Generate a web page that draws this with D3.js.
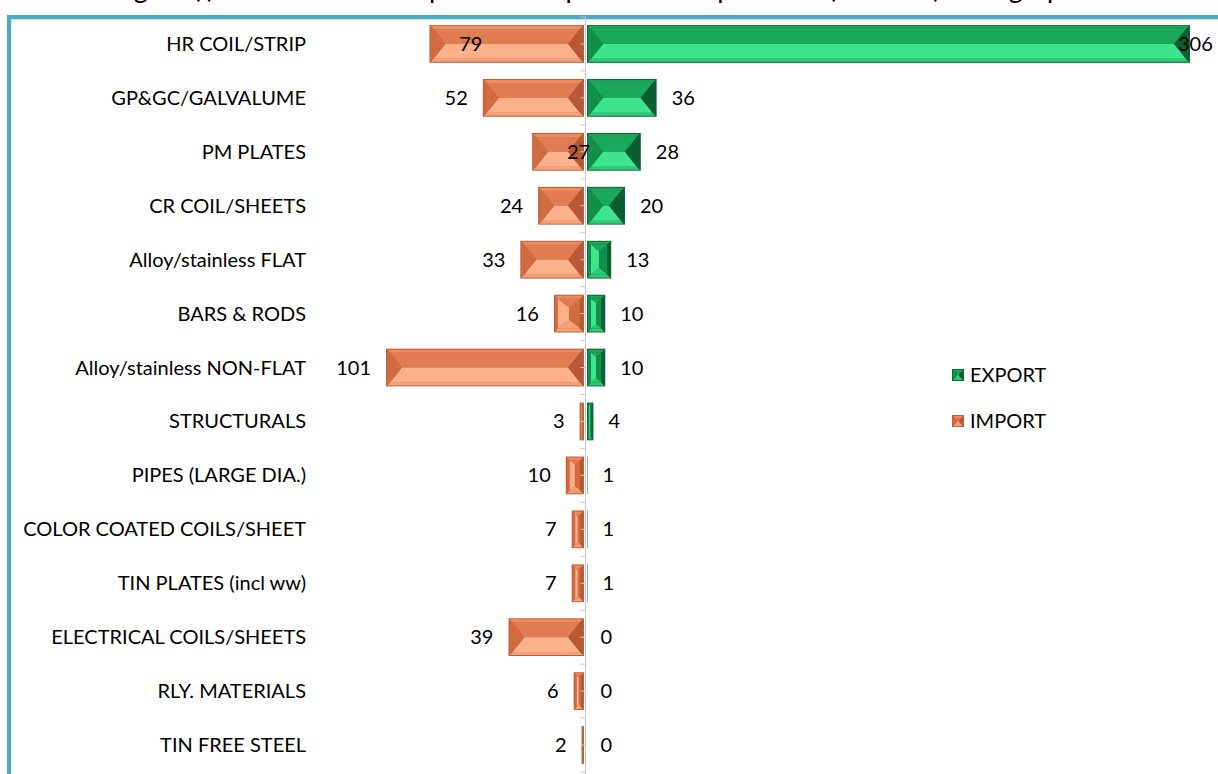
<!DOCTYPE html>
<html>
<head>
<meta charset="utf-8">
<script src="https://cdn.jsdelivr.net/npm/d3@7"></script>
<style>
  html, body { margin: 0; padding: 0; background: #fff; overflow: hidden; }
  svg { display: block; }
  text { font-family: Lato, "Open Sans", sans-serif; fill: #000; }
</style>
</head>
<body>
<svg id="chart" width="1218" height="774"></svg>
<script>
// ---- data ----
const titleText = "Figure (i): Finished Steel Import and Export of main products (in '000 t) during April";
const categories = ["HR COIL/STRIP","GP&GC/GALVALUME","PM PLATES","CR COIL/SHEETS","Alloy/stainless FLAT","BARS & RODS","Alloy/stainless NON-FLAT","STRUCTURALS","PIPES (LARGE DIA.)","COLOR COATED COILS/SHEET","TIN PLATES (incl ww)","ELECTRICAL COILS/SHEETS","RLY. MATERIALS","TIN FREE STEEL"];
const exportValues = [306,36,28,20,13,10,10,4,1,1,1,0,0,0];
const importValues = [79,52,27,24,33,16,101,3,10,7,7,39,6,2];
const seriesNames = ["EXPORT","IMPORT"];

// ---- styles ----
const palettes = {
  EXPORT: {rim:"#0a6a35", frameTop:"#1f9f57", frameBottom:"#2ecb74", left:"#12904b", right:"#0a5e30", innerTop:"#1aa85c", innerBottom:"#3fe48e"},
  IMPORT: {rim:"#bf5f39", frameTop:"#ee8c60", frameBottom:"#f6a177", left:"#d36b42", right:"#b85834", innerTop:"#e07b52", innerBottom:"#fbb18a"}
};
const fontSize = 20;

const svg = d3.select("#chart");

// title (cropped by the top of the picture, as in the original)
svg.append("text").attr("x", 112).attr("y", -2)
  .attr("font-size", 27).text(titleText);

// frame
svg.append("rect").attr("x", 9).attr("y", 17).attr("width", 1240).attr("height", 800)
  .attr("fill", "none").attr("stroke", "#4bacc6").attr("stroke-width", 4);
svg.append("line").attr("x1", 11).attr("x2", 1218).attr("y1", 19.5).attr("y2", 19.5)
  .attr("stroke", "#c5e4ee").attr("stroke-width", 1);

const x = d3.scaleLinear().domain([-101, 306]).range([386, 1190]);
const y = d3.scaleBand().domain(categories).range([17, 772]).paddingInner(0.3).paddingOuter(0.15);

function bevelBar(g, x0, y0, w, h, pal) {
  if (w <= 0) return;
  const grp = g.append("g");
  grp.append("rect").attr("x", x0).attr("y", y0).attr("width", w).attr("height", h).attr("fill", pal.rim);
  const X0 = x0 + 1, X1 = x0 + w - 1, Y0 = y0 + 1, Y1 = y0 + h - 1;
  if (X1 - X0 < 1) return;
  const poly = (pts, fill) => grp.append("path").attr("d", "M" + pts.map(p => p.join(",")).join("L") + "Z").attr("fill", fill);
  const s = Math.min(3, (X1 - X0) / 4, (Y1 - Y0) / 4);
  // outer frame facets
  poly([[X0,Y0],[X1,Y0],[X1-s,Y0+s],[X0+s,Y0+s]], pal.frameTop);
  poly([[X0,Y1],[X1,Y1],[X1-s,Y1-s],[X0+s,Y1-s]], pal.frameBottom);
  poly([[X0,Y0],[X0+s,Y0+s],[X0+s,Y1-s],[X0,Y1]], pal.left);
  poly([[X1,Y0],[X1-s,Y0+s],[X1-s,Y1-s],[X1,Y1]], pal.right);
  // inner roof facets
  const A = X0 + s, B = X1 - s, C = Y0 + s, D = Y1 - s;
  const iw = B - A, ih = D - C;
  if (iw <= 0 || ih <= 0) return;
  if (iw >= ih) {
    const d = ih / 2 * 0.8, m = (C + D) / 2;
    poly([[A,C],[B,C],[B-d,m],[A+d,m]], pal.innerTop);
    poly([[A,D],[B,D],[B-d,m],[A+d,m]], pal.innerBottom);
    poly([[A,C],[A+d,m],[A,D]], pal.left);
    poly([[B,C],[B-d,m],[B,D]], pal.right);
  } else {
    const d = iw / 2 * 0.8, m = (A + B) / 2;
    poly([[A,C],[m,C+d],[m,D-d],[A,D]], pal.innerBottom);
    poly([[B,C],[m,C+d],[m,D-d],[B,D]], pal.left);
    poly([[A,C],[B,C],[m,C+d]], pal.innerTop);
    poly([[A,D],[B,D],[m,D-d]], pal.frameBottom);
  }
}

const bars = svg.append("g");
categories.forEach((c, i) => {
  const yy = y(c), h = y.bandwidth();
  bevelBar(bars, x(-importValues[i]), yy, x(0) - 1.5 - x(-importValues[i]), h, palettes.IMPORT);
  bevelBar(bars, x(0) + 1.5, yy, x(exportValues[i]) - x(0) - 1.5, h, palettes.EXPORT);
});

// axis at zero
const axisG = svg.append("g").attr("transform", `translate(${x(0)},0)`)
  .call(d3.axisLeft(y).tickSize(5).tickFormat(""));
axisG.select(".domain").attr("stroke", "#c8c8c8").attr("d", `M0,${y.range()[0]}V774`);
axisG.selectAll(".tick line").attr("stroke", "#c8c8c8");
const step = y.step();
svg.append("g").selectAll("line").data(d3.range(categories.length + 1)).join("line")
  .attr("x1", x(0) - 5).attr("x2", x(0))
  .attr("y1", i => y.range()[0] + i * step).attr("y2", i => y.range()[0] + i * step)
  .attr("stroke", "#c8c8c8");

// category labels
svg.append("g").selectAll("text").data(categories).join("text")
  .attr("x", 306).attr("y", c => y(c) + y.bandwidth() / 2)
  .attr("dy", "0.35em").attr("text-anchor", "end").attr("font-size", fontSize)
  .text(c => c);

// value labels (a few were dragged by hand in the original)
const importLabelShift = {"HR COIL/STRIP": 68, "PM PLATES": 73};
const exportLabelShift = {"HR COIL/STRIP": -27};
const lab = svg.append("g");
categories.forEach((c, i) => {
  const cy = y(c) + y.bandwidth() / 2;
  lab.append("text").attr("x", x(-importValues[i]) - 15 + (importLabelShift[c] || 0)).attr("y", cy)
    .attr("dy", "0.35em").attr("text-anchor", "end").attr("font-size", fontSize).text(importValues[i]);
  lab.append("text").attr("x", x(exportValues[i]) + 15 + (exportLabelShift[c] || 0)).attr("y", cy)
    .attr("dy", "0.35em").attr("text-anchor", "start").attr("font-size", fontSize).text(exportValues[i]);
});

// legend
const legend = svg.append("g").attr("transform", "translate(952,375)");
seriesNames.forEach((s, i) => {
  const gy = i * 46;
  bevelBar(legend, 0, gy - 6, 12, 12, palettes[s]);
  legend.append("text").attr("x", 18).attr("y", gy).attr("dy", "0.35em")
    .attr("font-size", fontSize).text(s);
});
</script>
</body>
</html>
